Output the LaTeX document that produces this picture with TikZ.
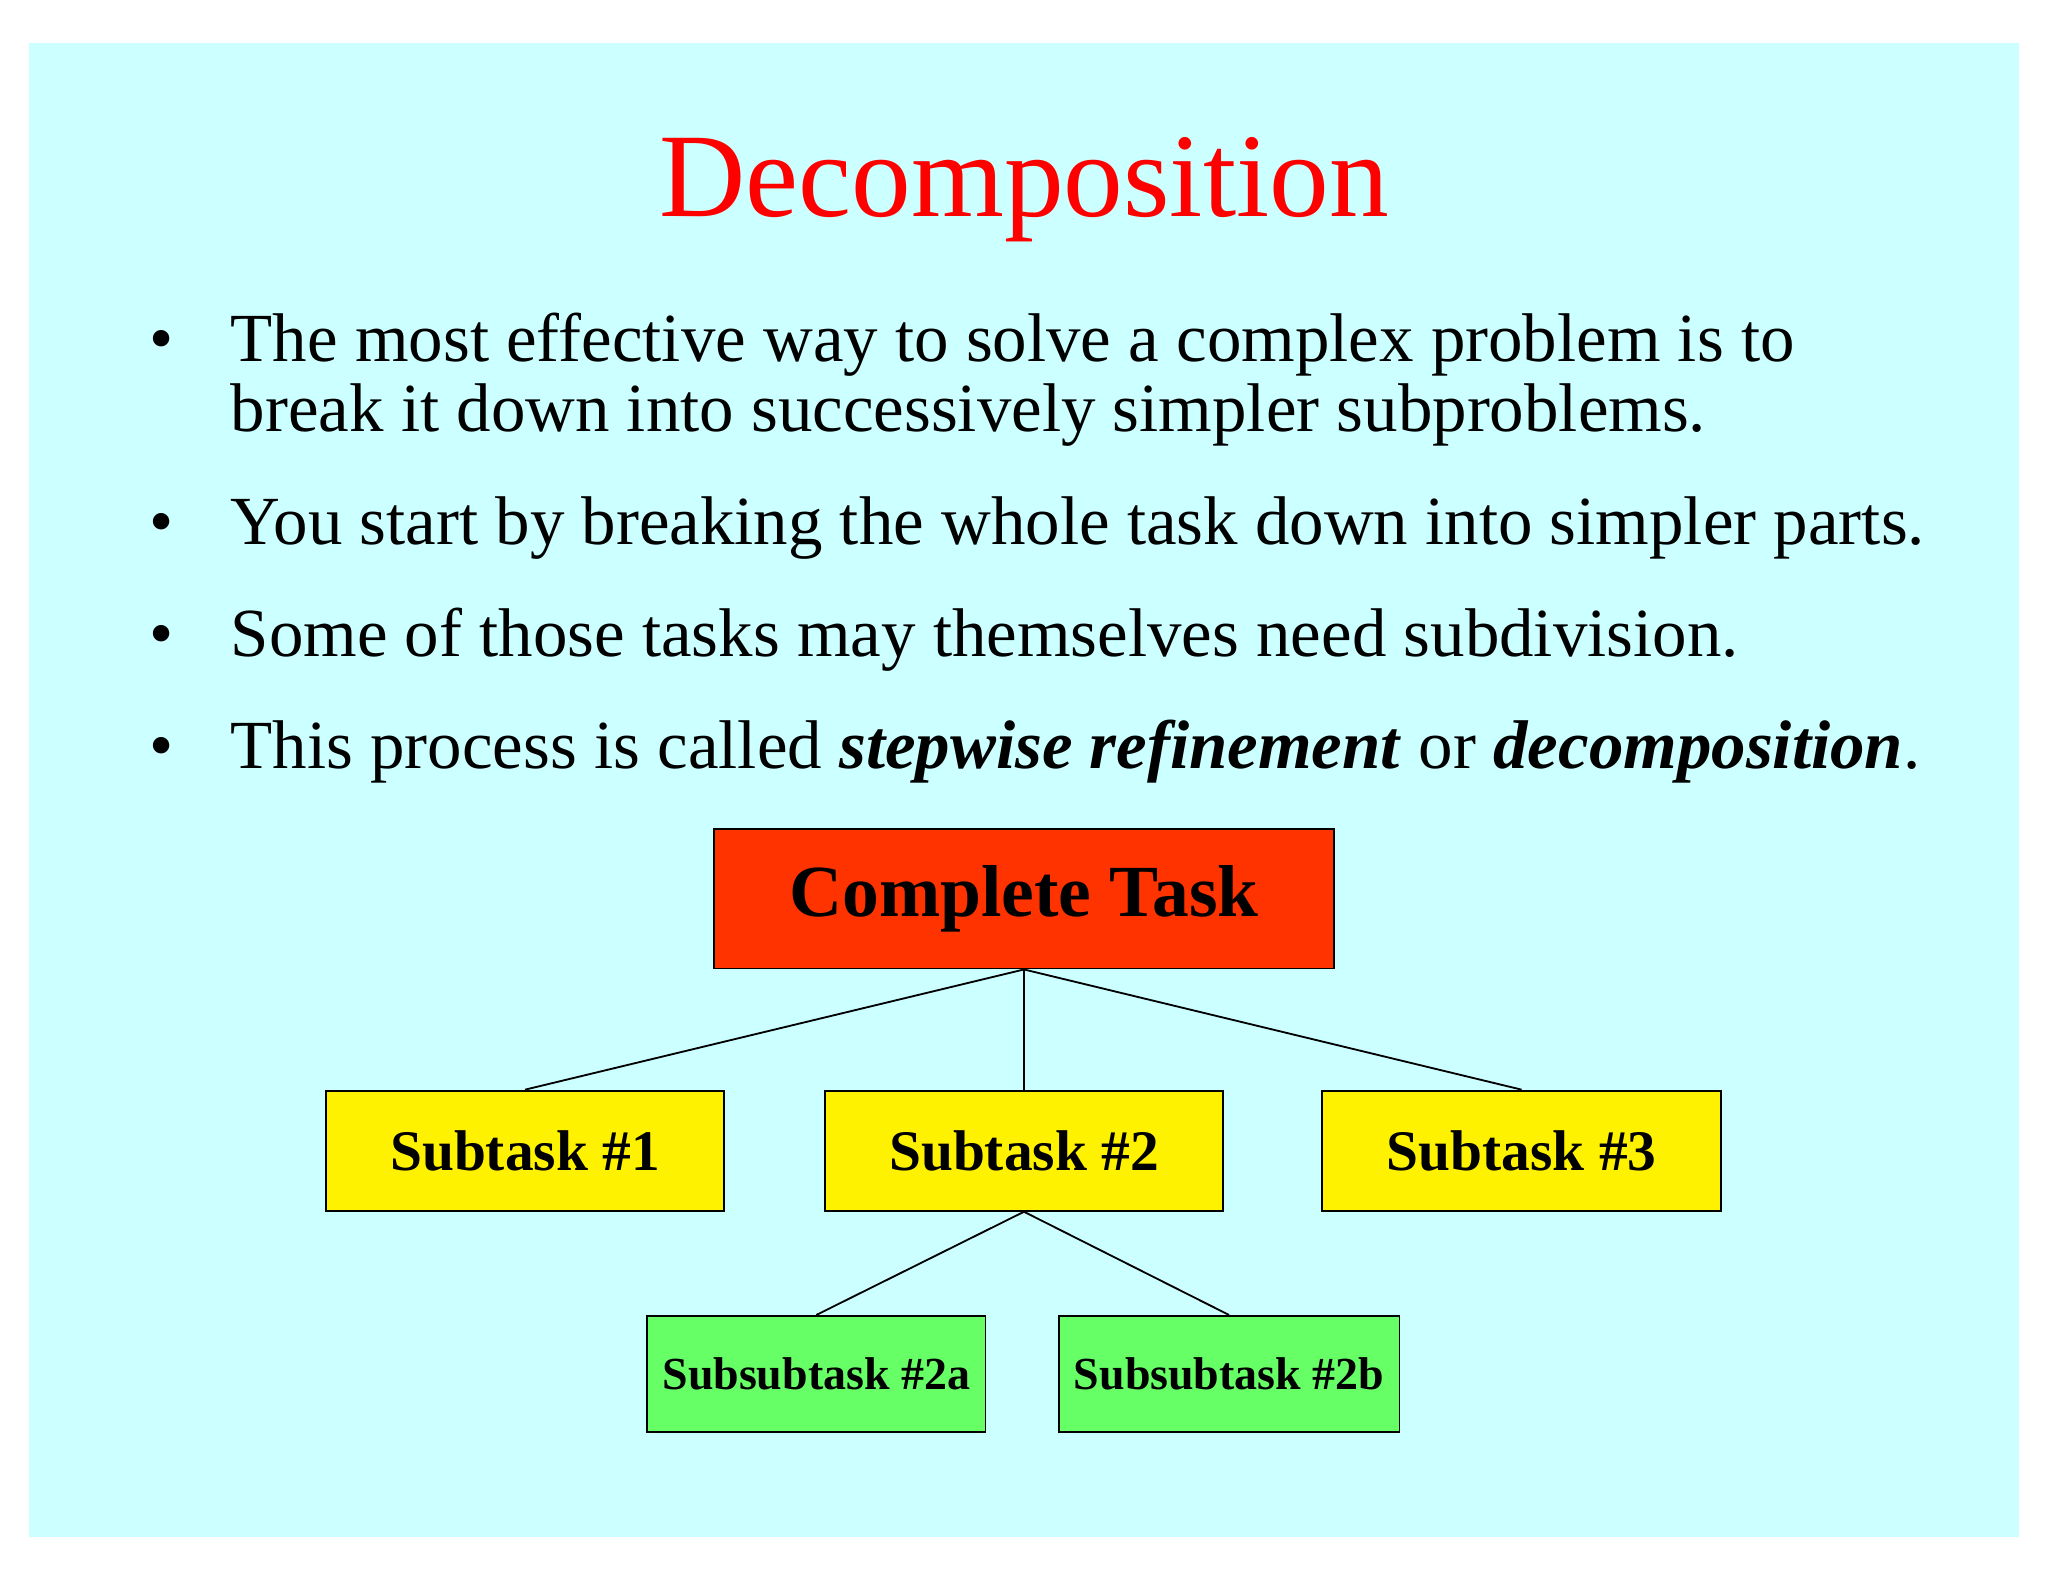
\documentclass[tikz,border=0pt]{standalone}
\usepackage{fontspec}
\setmainfont{Liberation Serif}
\tikzstyle{bigbox}=[draw, thin, fill={rgb,255:red,255;green,51;blue,0}, minimum width=4.75cm, minimum height=1.07cm, font=\fontsize{16}{18}\selectfont\bfseries]
\tikzstyle{subbox}=[draw, thin, fill=yellow, minimum width=3.05cm, minimum height=0.92cm, font=\fontsize{12.5}{14}\selectfont\bfseries]
\tikzstyle{subsubbox}=[draw, thin, fill={rgb,255:red,102;green,255;blue,102}, minimum width=2.54cm, minimum height=0.89cm, font=\fontsize{10}{12}\selectfont\bfseries]
\tikzstyle{bullet}=[anchor=base west, inner sep=0, font=\fontsize{15}{17}\selectfont]

\begin{document}
\begin{tikzpicture}[x=0.01cm, y=-0.01cm]

\useasboundingbox (0,0) rectangle (1568,1211);
\fill[fill={rgb,255:red,204;green,255;blue,255}] (22,33) rectangle (1546,1177);

\node[text=red, font=\fontsize{26}{30}\selectfont] (title) at (784,145) {Decomposition};

\node[bullet] (b1) at (114,277) {•};
\node[bullet] (t1) at (176,277) {The most effective way to solve a complex problem is to};
\node[bullet] (t1b) at (176,330) {break it down into successively simpler subproblems.};
\node[bullet] (b2) at (114,417) {•};
\node[bullet] (t2) at (176,417) {You start by breaking the whole task down into simpler parts.};
\node[bullet] (b3) at (114,503) {•};
\node[bullet] (t3) at (176,503) {Some of those tasks may themselves need subdivision.};
\node[bullet] (b4) at (114,588) {•};
\node[bullet] (t4) at (176,588) {This process is called \textbf{\textit{stepwise refinement}} or \textbf{\textit{decomposition}}.};

\node[bigbox] (task) at (784,688) {Complete Task};
\node[subbox] (s1) at (402,881) {Subtask \#1};
\node[subbox] (s2) at (784,881) {Subtask \#2};
\node[subbox] (s3) at (1165,881) {Subtask \#3};
\node[subsubbox] (s2a) at (625,1052) {Subsubtask \#2a};
\node[subsubbox] (s2b) at (941,1052) {Subsubtask \#2b};

\draw[thin] (task.south) -- (s1.north);
\draw[thin] (task.south) -- (s2.north);
\draw[thin] (task.south) -- (s3.north);
\draw[thin] (s2.south) -- (s2a.north);
\draw[thin] (s2.south) -- (s2b.north);

\end{tikzpicture}
\end{document}
